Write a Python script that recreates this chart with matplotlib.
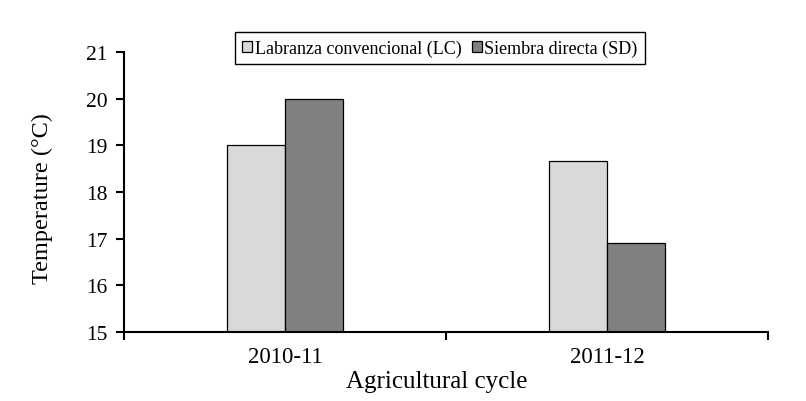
import matplotlib
matplotlib.use("Agg")
import matplotlib.pyplot as plt
import numpy as np

categories = ["2010-11", "2011-12"]
lc_values = [19.0, 18.67]
sd_values = [20.0, 16.9]
series_names = ["Labranza convencional (LC)", "Siembra directa (SD)"]
y_ticks = [15, 16, 17, 18, 19, 20, 21]

plt.rcParams['font.family'] = ['Liberation Serif', 'DejaVu Serif']

fig = plt.figure(figsize=(8.06, 4.02), dpi=100)
ax = fig.add_axes([124/806, 1-333/402, (768-124)/806, (333-53)/402])

x = np.arange(len(categories))
w = 0.18
ax.bar(x - w/2, lc_values, w, color="#d9d9d9", edgecolor="black", linewidth=0.9,
       label=series_names[0], zorder=2)
ax.bar(x + w/2, sd_values, w, color="#808080", edgecolor="black", linewidth=0.9,
       label=series_names[1], zorder=2)

ax.set_ylim(15, 21)
ax.set_xlim(-0.5, 1.5)
ax.set_yticks(y_ticks)
ax.set_yticklabels([str(t) for t in y_ticks], fontsize=15.5)

# category labels at centers, ticks at boundaries
ax.set_xticks([-0.5, 0.5, 1.5])
ax.set_xticklabels([])
ax.set_xticks(x, minor=True)
ax.set_xticklabels(categories, minor=True, fontsize=16.5)
ax.tick_params(axis='x', which='minor', length=0, pad=10)
ax.tick_params(axis='x', which='major', length=6, width=1.5, direction='out')
ax.tick_params(axis='y', length=6, width=1.5, direction='out', pad=6)

for s in ['top', 'right']:
    ax.spines[s].set_visible(False)
for s in ['left', 'bottom']:
    ax.spines[s].set_linewidth(1.5)

ax.set_ylabel("Temperature (°C)", fontsize=17.5)
ax.yaxis.set_label_coords(-(124-42)/644, 0.48)
ax.set_xlabel("Agricultural cycle", fontsize=18)
ax.xaxis.set_label_coords((437-124)/644, -(382-333)/280)
ax.xaxis.label.set_va('center')
ax.yaxis.label.set_va('center')

leg = ax.legend(loc='upper center', bbox_to_anchor=((440-124)/644, (333-33)/280), ncol=2,
                fontsize=13, frameon=True, fancybox=False, edgecolor='black', framealpha=1,
                handlelength=0.55, handleheight=0.55, handletextpad=0.15,
                columnspacing=0.55, borderpad=0.4, borderaxespad=0)
leg.get_frame().set_linewidth(1.0)

fig.savefig("out.png", dpi=100)
